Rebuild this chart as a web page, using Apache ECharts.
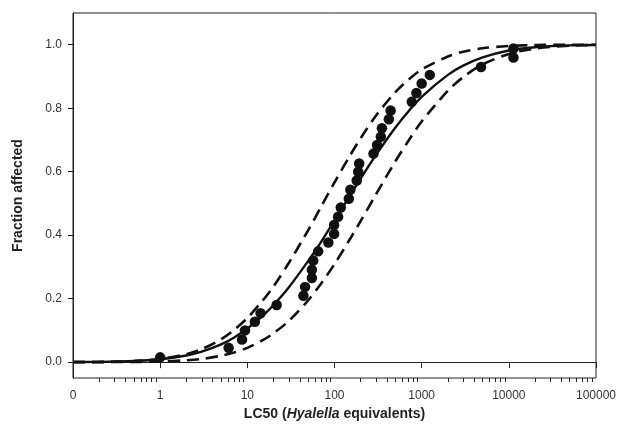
<!DOCTYPE html>
<html>
<head>
<meta charset="utf-8">
<script src="https://cdn.jsdelivr.net/npm/echarts@6/dist/echarts.min.js"></script>
<style>
html,body{margin:0;padding:0;background:#fff;}
#chart{width:619px;height:440px;}
</style>
</head>
<body>
<div id="chart"></div>
<script>
// Observed data points (LC50 in Hyalella equivalents, fraction affected)
const pointX = [1.0, 6.1, 8.7, 9.4, 12.2, 14.2, 21.7, 44, 46, 55, 55, 57, 65, 85, 99, 99, 110, 118, 146, 152, 180, 187, 192, 280, 308, 340, 350, 420, 440, 770, 870, 1000, 1240, 4800, 11300, 11300];
const pointY = [0.015, 0.045, 0.071, 0.100, 0.127, 0.154, 0.180, 0.209, 0.237, 0.265, 0.291, 0.320, 0.349, 0.377, 0.404, 0.432, 0.458, 0.487, 0.515, 0.543, 0.572, 0.600, 0.626, 0.657, 0.684, 0.710, 0.737, 0.765, 0.793, 0.820, 0.848, 0.878, 0.905, 0.930, 0.960, 0.988];

// Curves at these x positions
const curveX = [0.1, 0.2, 0.5, 1, 2, 3, 5, 7, 10, 15, 20, 30, 50, 70, 100, 150, 200, 300, 500, 700, 1000, 2000, 3000, 5000, 10000, 20000, 50000, 100000];
const fitY   = [0.0003, 0.0008, 0.0035, 0.009, 0.021, 0.033, 0.056, 0.077, 0.106, 0.146, 0.180, 0.236, 0.319, 0.378, 0.446, 0.524, 0.579, 0.653, 0.739, 0.789, 0.836, 0.905, 0.934, 0.960, 0.982, 0.992, 0.998, 0.999];
const upperY = [0.0002, 0.0007, 0.0034, 0.010, 0.025, 0.041, 0.072, 0.101, 0.139, 0.194, 0.239, 0.313, 0.416, 0.489, 0.566, 0.650, 0.706, 0.777, 0.851, 0.889, 0.922, 0.963, 0.978, 0.989, 0.996, 0.999, 1.000, 1.000];
const lowerY = [0.0000, 0.0001, 0.0006, 0.002, 0.006, 0.010, 0.020, 0.030, 0.045, 0.069, 0.091, 0.130, 0.195, 0.247, 0.309, 0.387, 0.445, 0.529, 0.633, 0.696, 0.758, 0.855, 0.898, 0.938, 0.971, 0.988, 0.997, 0.999];

// Axis ticks
const xMajorTicks = [0.1, 1, 10, 100, 1000, 10000, 100000];
const yTicks = [0, 0.2, 0.4, 0.6, 0.8, 1.0];

const xMinorTicks = [];
for (let d = 0; d < 6; d++) {
  for (let m = 2; m <= 9; m++) xMinorTicks.push(m * xMajorTicks[d]);
}

const pair = (xs, ys) => xs.map((x, i) => [x, ys[i]]);

const FONT = 'Liberation Sans, Arial, Helvetica, sans-serif';
const chart = echarts.init(document.getElementById('chart'), null, {renderer: 'canvas'});

const dashed = {color: '#111', width: 2.6, type: [12, 7]};

chart.setOption({
  animation: false,
  backgroundColor: '#fff',
  grid: {left: 73, right: 23, top: 13, bottom: 62, show: true, borderColor: '#222', borderWidth: 1},
  xAxis: [{
    type: 'log', logBase: 10, min: 0.1, max: 100000,
    name: '{b|LC50 (}{bi|Hyalella}{b| equivalents)}',
    nameLocation: 'middle', nameGap: 25,
    nameTextStyle: {rich: {
      b: {fontFamily: FONT, fontWeight: 'bold', fontSize: 14, color: '#222'},
      bi: {fontFamily: FONT, fontWeight: 'bold', fontStyle: 'italic', fontSize: 14, color: '#222'}
    }},
    axisLine: {show: true, lineStyle: {color: '#222', width: 1}},
    axisTick: {show: true, customValues: xMajorTicks, length: 6, lineStyle: {color: '#222', width: 1}},
    axisLabel: {customValues: xMajorTicks, margin: 12, fontFamily: FONT, fontSize: 12, color: '#333',
      formatter: v => (v < 0.5 ? '0' : String(Math.round(v)))},
    splitLine: {show: false}, minorTick: {show: false}
  }, {
    type: 'log', logBase: 10, min: 0.1, max: 100000, position: 'bottom', gridIndex: 0,
    axisLine: {show: false},
    axisTick: {show: true, customValues: xMinorTicks, length: 4, lineStyle: {color: '#222', width: 1}},
    axisLabel: {show: false},
    splitLine: {show: false}
  }],
  yAxis: {
    type: 'value', min: -0.05, max: 1.1,
    name: 'Fraction affected', nameLocation: 'middle', nameGap: 48,
    nameTextStyle: {fontFamily: FONT, fontWeight: 'bold', fontSize: 14, color: '#222'},
    axisLine: {show: true, lineStyle: {color: '#222', width: 1}},
    axisTick: {show: true, customValues: yTicks, length: 5, lineStyle: {color: '#222', width: 1}},
    axisLabel: {customValues: yTicks, margin: 11, fontFamily: FONT, fontSize: 12, color: '#333',
      formatter: v => v.toFixed(1)},
    splitLine: {show: false}
  },
  series: [
    {type: 'line', name: 'Upper', data: pair(curveX, upperY), smooth: 0.3, showSymbol: false, symbol: 'none', lineStyle: dashed, z: 2},
    {type: 'line', name: 'Lower', data: pair(curveX, lowerY), smooth: 0.3, showSymbol: false, symbol: 'none', lineStyle: dashed, z: 2},
    {type: 'line', name: 'Fit', data: pair(curveX, fitY), smooth: 0.3, showSymbol: false, symbol: 'none', lineStyle: {color: '#111', width: 2.4}, z: 2},
    {type: 'scatter', name: 'Data', data: pair(pointX, pointY), symbol: 'circle', symbolSize: 10.5, itemStyle: {color: '#111', opacity: 1}, z: 3}
  ]
});
</script>
</body>
</html>
